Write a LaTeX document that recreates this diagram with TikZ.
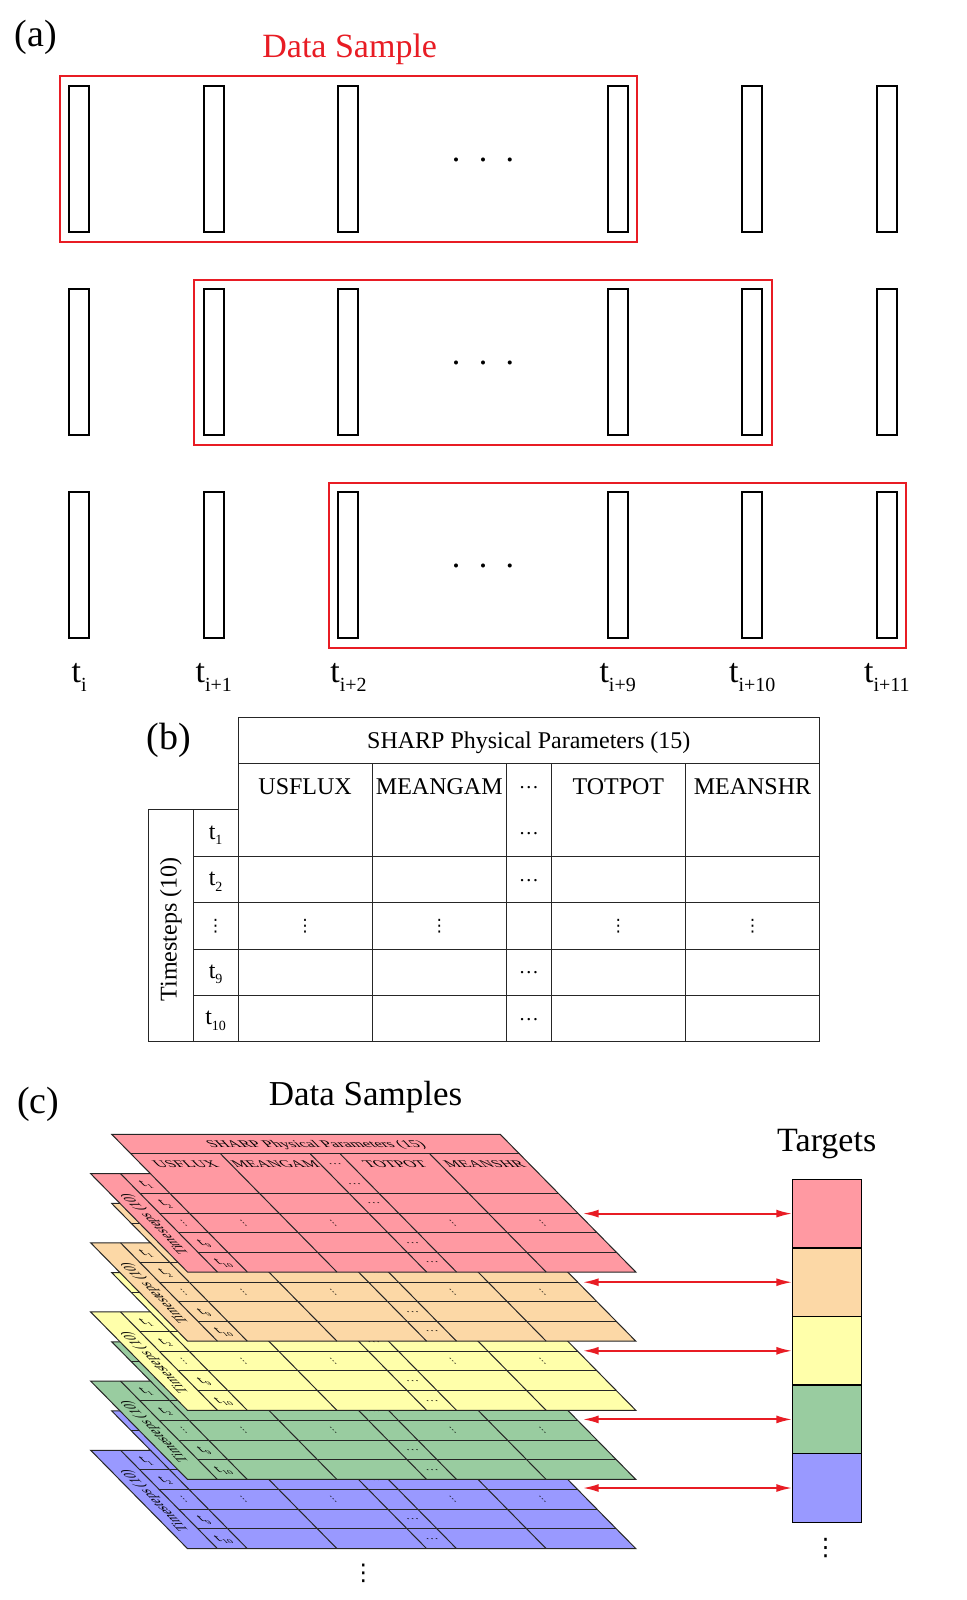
\documentclass[tikz,border=0pt]{standalone}
\usepackage{fontspec}
\setmainfont{Liberation Serif}
\newfontfamily\dejavu{DejaVu Sans}
\usetikzlibrary{arrows.meta,fit}
\definecolor{redln}{RGB}{232,28,36}
\definecolor{cpink}{RGB}{255,153,162}
\definecolor{corange}{RGB}{252,216,166}
\definecolor{cyellow}{RGB}{255,255,170}
\definecolor{cgreen}{RGB}{153,204,160}
\definecolor{cblue}{RGB}{153,153,255}
\newcommand{\fs}[1]{\fontsize{#1}{#1}\selectfont}
\newcommand{\tsub}[1]{\raisebox{-5.5pt}{\fs{14}#1}}
\newcommand{\asub}[1]{\raisebox{-9pt}{\fs{20}#1}}
\tikzset{
  abar/.style={draw=black, line width=2pt, minimum width=20pt, minimum height=146pt, inner sep=0pt, outer sep=0pt},
  sbox/.style={draw=redln, line width=2pt, inner sep=9.5pt, outer sep=0pt},
  tline/.style={draw=black!85, line width=1pt},
  ttext/.style={font=\fs{24}, anchor=base, inner sep=0pt},
  tdots/.style={font=\fs{20}, anchor=base, inner sep=0pt},
  vdts/.style={font=\dejavu\fs{17}, inner sep=0pt},
  tgtcell/.style={draw=black, line width=1.3pt, minimum width=69pt, minimum height=68.6pt, inner sep=0pt, outer sep=0pt},
  sarrow/.style={draw=redln, line width=2pt, {Latex[length=16pt,width=8pt]}-{Latex[length=16pt,width=8pt]}},
}
% #1 name prefix, #2 fill, #3 = 1 if the whole table is visible
\newcommand{\sharptable}[3]{%
  \filldraw[tline, fill=#2] (0,0) -- (581.6,0) -- (581.6,324.38) -- (-89.5,324.38) -- (-89.5,92.68) -- (0,92.68) -- cycle;
  \draw[tline] (0,46.34) -- (581.6,46.34);
  \foreach \vv in {139.02,185.36,231.7,278.04} {\draw[tline] (-44.75,\vv) -- (581.6,\vv);}
  \draw[tline] (-44.75,92.68) -- (-44.75,324.38);
  \draw[tline] (0,92.68) -- (0,324.38);
  \foreach \uu in {134.2,268.4,313.2,447.4} {\draw[tline] (\uu,46.34) -- (\uu,324.38);}
  \ifnum#3=1
  \node[ttext] (#1-title) at (290.8,31.1) {SHARP Physical Parameters (15)};
  \node[ttext] (#1-usflux) at (67.1,77.4) {USFLUX};
  \node[ttext] (#1-meangam) at (201.3,77.4) {MEANGAM};
  \node[tdots] (#1-hd) at (290.8,71) {…};
  \node[ttext] (#1-totpot) at (380.3,77.4) {TOTPOT};
  \node[ttext] (#1-meanshr) at (514.5,77.4) {MEANSHR};
  \node[tdots] (#1-d1) at (290.8,117.4) {…};
  \fi
  \node[ttext, anchor=center, rotate=90] (#1-steps) at (-67.1,212) {Timesteps (10)};
  \node[ttext] (#1-t1) at (-22.4,121.9) {t\tsub{1}};
  \node[ttext] (#1-t2) at (-22.4,168.2) {t\tsub{2}};
  \node[vdts] (#1-tv) at (-22.4,208.53) {⋮};
  \node[ttext] (#1-t9) at (-22.4,260.9) {t\tsub{9}};
  \node[ttext] (#1-t10) at (-22.4,307.2) {t\tsub{10}};
  \node[tdots] (#1-d2) at (290.8,163.7) {…};
  \node[tdots] (#1-d9) at (290.8,256.4) {…};
  \node[tdots] (#1-d10) at (290.8,302.7) {…};
  \node[vdts] (#1-v1) at (67.1,208.53) {⋮};
  \node[vdts] (#1-v2) at (201.3,208.53) {⋮};
  \node[vdts] (#1-v4) at (380.3,208.53) {⋮};
  \node[vdts] (#1-v5) at (514.5,208.53) {⋮};
}
\begin{document}
\begin{tikzpicture}[x=1pt,y=-1pt]
\fill[white] (0,0) rectangle (966,1600);
\useasboundingbox (0,0) rectangle (966,1600);
% ---------------- (a)
\node[font=\fs{38}, anchor=base] (lab-a) at (36,47) {(a)};
\node[font=\fs{34}, anchor=base, text=redln] (ds-title) at (349.7,57.4) {Data Sample};
\foreach \r in {0,1,2} {
  \foreach \k in {0,1,2,4,5,6} {
    \node[abar] (bar-\r-\k) at ({79.25+134.6*\k},{159+203.2*\r}) {};
  }
  \pgfmathtruncatemacro\rr{\r+4}
  \node[sbox, fit=(bar-\r-\r) (bar-\r-\rr)] (sample-\r) {};
  \node[font=\fs{34}, anchor=base, inner sep=0pt] (dots-\r) at (483,{161.5+203.2*\r}) {.\hspace{18.5pt}.\hspace{18.5pt}.};
}
\node[font=\fs{34}, anchor=base] (tl-0) at (79.25,682) {t\asub{i}};
\node[font=\fs{34}, anchor=base] (tl-1) at (213.85,682) {t\asub{i+1}};
\node[font=\fs{34}, anchor=base] (tl-2) at (348.45,682) {t\asub{i+2}};
\node[font=\fs{34}, anchor=base] (tl-4) at (617.65,682) {t\asub{i+9}};
\node[font=\fs{34}, anchor=base] (tl-5) at (752.25,682) {t\asub{i+10}};
\node[font=\fs{34}, anchor=base] (tl-6) at (886.85,682) {t\asub{i+11}};
% ---------------- (b)
\node[font=\fs{38}, anchor=base] (lab-b) at (169,749) {(b)};
\begin{scope}[shift={(238,717.3)}]
  \sharptable{B}{white}{1}
\end{scope}
% ---------------- (c)
\node[font=\fs{38}, anchor=base] (lab-c) at (38.3,1113) {(c)};
\node[font=\fs{35}, anchor=base] (samples-title) at (365.5,1105) {Data Samples};
\node[font=\fs{34}, anchor=base] (targets-title) at (826.7,1151.7) {Targets};
\foreach \L/\col/\vis in {4/cblue/0,3/cgreen/0,2/cyellow/0,1/corange/0,0/cpink/1} {
  \pgfmathsetmacro\ty{-1134.3-69.15*\L}
  \begin{scope}[cm={0.668,0,-0.418,0.4245,(111.7pt,\ty pt)}, transform shape]
    \sharptable{L\L}{\col}{\vis}
  \end{scope}
}
\foreach \i/\col in {1/cpink,2/corange,3/cyellow,4/cgreen,5/cblue} {
  \node[tgtcell, fill=\col] (tgt\i) at (826.8,{1213.6+68.6*(\i-1)}) {};
  \coordinate (src\i) at (582.7,{1213.6+68.6*(\i-1)});
  \draw[sarrow] (src\i) -- (tgt\i.west);
}
\node[font=\dejavu\fs{23}, inner sep=0pt] (moredots) at (363.3,1573.5) {⋮};
\node[font=\dejavu\fs{24}, inner sep=0pt] (tgtdots) at (825.7,1548) {⋮};
\end{tikzpicture}
\end{document}
